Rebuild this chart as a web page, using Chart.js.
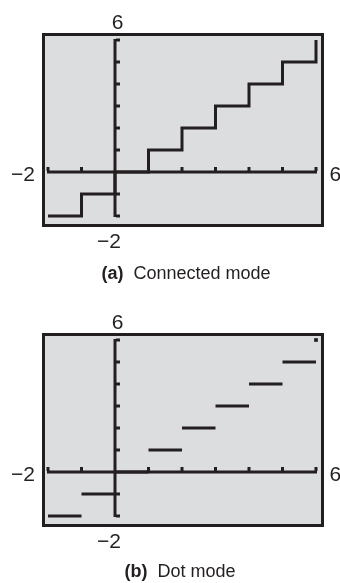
<!DOCTYPE html>
<html><head><meta charset="utf-8">
<script src="https://cdn.jsdelivr.net/npm/chart.js@4/dist/chart.umd.min.js"></script>
<style>
html,body{margin:0;padding:0;background:#fff;width:340px;height:583px;overflow:hidden;}
.panel{position:absolute;left:0;width:340px;height:283px;}
canvas{position:absolute;left:0;top:0;}
.cap{position:absolute;width:300px;text-align:center;font-family:"Liberation Sans",Arial,sans-serif;font-size:18px;line-height:20px;color:#231f20;white-space:nowrap;}
.cap b{margin-right:5px;}
</style></head><body>
<div class="panel" style="top:0"><canvas id="c1" width="340" height="283"></canvas></div>
<div class="panel" style="top:300px"><canvas id="c2" width="340" height="283"></canvas></div>
<div class="cap" style="top:263px;left:36px"><b>(a)</b> Connected mode</div>
<div class="cap" style="top:561px;left:30px"><b>(b)</b> Dot mode</div>
<script>
// Viewing window and its labels
const windowX = [-2, 6];
const windowY = [-2, 6];
const windowXLabels = ['\u22122', '6'];
const windowYLabels = ['\u22122', '6'];
// Axis tick marks (scale 1)
const xTickValues = [-2, -1, 0, 1, 2, 3, 4, 5, 6];
const yTickValues = [-2, -1, 0, 1, 2, 3, 4, 5, 6];
// Connected mode: step corners
const stepX = [-2, -1, 0, 1, 2, 3, 4, 5, 6];
const stepY = [-2, -1, 0, 1, 2, 3, 4, 5, 6];
// Dot mode: horizontal pieces
const dotStart = [-2, -1, 0, 1, 2, 3, 4, 5];
const dotEnd   = [-1, 0, 1, 2, 3, 4, 5, 6];
const dotLevel = [-2, -1, 0, 1, 2, 3, 4, 5];
const loneX = [6];
const loneY = [6];

const INK = '#231f20';
const SCREEN = '#dcdddf';

const screenPlugin = {
  id: 'calcScreen',
  beforeDatasetsDraw(chart) {
    const ctx = chart.ctx, ca = chart.chartArea;
    const xs = chart.scales.x, ys = chart.scales.y;
    ctx.save();
    // screen + frame
    const L = ca.left - 6, R = ca.right + 8, T = ca.top - 7, B = ca.bottom + 11;
    ctx.fillStyle = SCREEN;
    ctx.fillRect(L, T, R - L, B - T);
    ctx.strokeStyle = INK;
    ctx.lineWidth = 3;
    ctx.strokeRect(L + 1.5, T + 1.5, R - L - 3, B - T - 3);
    // axes
    const ax = xs.getPixelForValue(0), ay = ys.getPixelForValue(0);
    ctx.lineWidth = 3;
    ctx.lineCap = 'butt';
    ctx.beginPath();
    ctx.moveTo(xs.getPixelForValue(windowX[0]) - 1, ay);
    ctx.lineTo(xs.getPixelForValue(windowX[1]) + 1, ay);
    ctx.moveTo(ax, ys.getPixelForValue(windowY[0]) + 1);
    ctx.lineTo(ax, ys.getPixelForValue(windowY[1]) - 1);
    ctx.stroke();
    // ticks
    ctx.lineWidth = 3;
    ctx.beginPath();
    xTickValues.forEach(v => {
      if (v === 0) return;
      const px = xs.getPixelForValue(v);
      ctx.moveTo(px, ay - 1);
      ctx.lineTo(px, ay - 5);
    });
    yTickValues.forEach(v => {
      if (v === 0) return;
      const py = ys.getPixelForValue(v);
      ctx.moveTo(ax + 1, py);
      ctx.lineTo(ax + 5, py);
    });
    ctx.stroke();
    // window labels
    ctx.fillStyle = INK;
    ctx.font = '21px "Liberation Sans", Arial, sans-serif';
    ctx.textBaseline = 'alphabetic';
    ctx.textAlign = 'center';
    ctx.fillText(windowYLabels[1], ax + 2.5, ys.getPixelForValue(windowY[1]) - 11);
    ctx.fillText(windowYLabels[0], ax - 6, ys.getPixelForValue(windowY[0]) + 32);
    ctx.textAlign = 'right';
    ctx.fillText(windowXLabels[0], xs.getPixelForValue(windowX[0]) - 13, ay + 9);
    ctx.textAlign = 'left';
    ctx.fillText(windowXLabels[1], xs.getPixelForValue(windowX[1]) + 13.5, ay + 9);
    ctx.restore();
  }
};

function baseOptions() {
  return {
    responsive: false,
    animation: false,
    events: [],
    layout: { padding: { left: 48, right: 24, top: 40, bottom: 67 } },
    plugins: { legend: { display: false }, tooltip: { enabled: false } },
    scales: {
      x: { type: 'linear', min: windowX[0], max: windowX[1], display: false },
      y: { type: 'linear', min: windowY[0], max: windowY[1], display: false }
    }
  };
}

new Chart(document.getElementById('c1'), {
  type: 'line',
  data: {
    datasets: [{
      data: stepX.map((x, i) => ({ x: x, y: stepY[i] })),
      stepped: true,
      clip: 6,
      borderColor: INK,
      borderWidth: 3,
      borderJoinStyle: 'miter',
      borderCapStyle: 'butt',
      pointRadius: 0,
      fill: false
    }]
  },
  options: baseOptions(),
  plugins: [screenPlugin]
});

const dotData = [];
dotStart.forEach((s, i) => {
  dotData.push({ x: s, y: dotLevel[i] }, { x: dotEnd[i], y: dotLevel[i] }, { x: dotEnd[i], y: null });
});

new Chart(document.getElementById('c2'), {
  type: 'line',
  data: {
    datasets: [{
      data: dotData,
      spanGaps: false,
      clip: 6,
      borderColor: INK,
      borderWidth: 3,
      borderCapStyle: 'butt',
      pointRadius: 0,
      fill: false
    }, {
      data: loneX.map((x, i) => ({ x: x, y: loneY[i] })),
      showLine: false,
      clip: 6,
      pointStyle: 'rect',
      pointRadius: 2.6,
      borderWidth: 0,
      backgroundColor: INK
    }]
  },
  options: baseOptions(),
  plugins: [screenPlugin]
});
</script>
</body></html>
